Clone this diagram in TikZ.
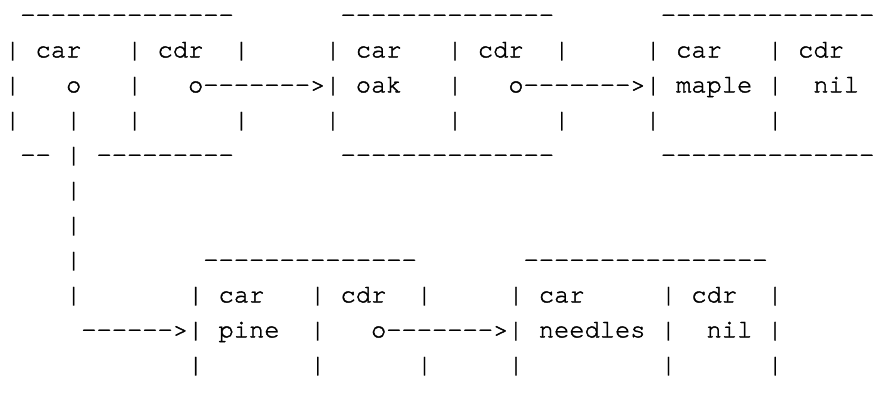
\documentclass[tikz,border=0pt]{standalone}
\usepackage{fontspec}
\newfontfamily\asciimono[FakeBold=1.6]{TeX Gyre Cursor}
\begin{document}
\begin{tikzpicture}[x=0.34426pt,y=-0.34426pt,
  asciiline/.style={anchor=base west,inner sep=0pt,outer sep=0pt,font=\asciimono\fontsize{8.75}{12}\selectfont}]
\useasboundingbox (0,0) rectangle (880,396);
\def\lx{5.08}
\node[asciiline] (l1)  at (\lx,22.3)  {~--------------~~~~~~~--------------~~~~~~~--------------};
\node[asciiline] (l2)  at (\lx,57.3)  {|~car~~~|~cdr~~|~~~~~|~car~~~|~cdr~~|~~~~~|~car~~~|~cdr};
\node[asciiline] (l3)  at (\lx,92.3)  {|~~~o~~~|~~~o------->|~oak~~~|~~~o------->|~maple~|~~nil};
\node[asciiline] (l4)  at (\lx,127.3) {|~~~|~~~|~~~~~~|~~~~~|~~~~~~~|~~~~~~|~~~~~|~~~~~~~|};
\node[asciiline] (l5)  at (\lx,162.3) {~--~|~---------~~~~~~~--------------~~~~~~~--------------};
\node[asciiline] (l6)  at (\lx,197.3) {~~~~|};
\node[asciiline] (l7)  at (\lx,232.3) {~~~~|};
\node[asciiline] (l8)  at (\lx,267.3) {~~~~|~~~~~~~~--------------~~~~~~~----------------};
\node[asciiline] (l9)  at (\lx,302.3) {~~~~|~~~~~~~|~car~~~|~cdr~~|~~~~~|~car~~~~~|~cdr~~|};
\node[asciiline] (l10) at (\lx,337.3) {~~~~~------>|~pine~~|~~~o------->|~needles~|~~nil~|};
\node[asciiline] (l11) at (\lx,372.3) {~~~~~~~~~~~~|~~~~~~~|~~~~~~|~~~~~|~~~~~~~~~|~~~~~~|};
\end{tikzpicture}
\end{document}
